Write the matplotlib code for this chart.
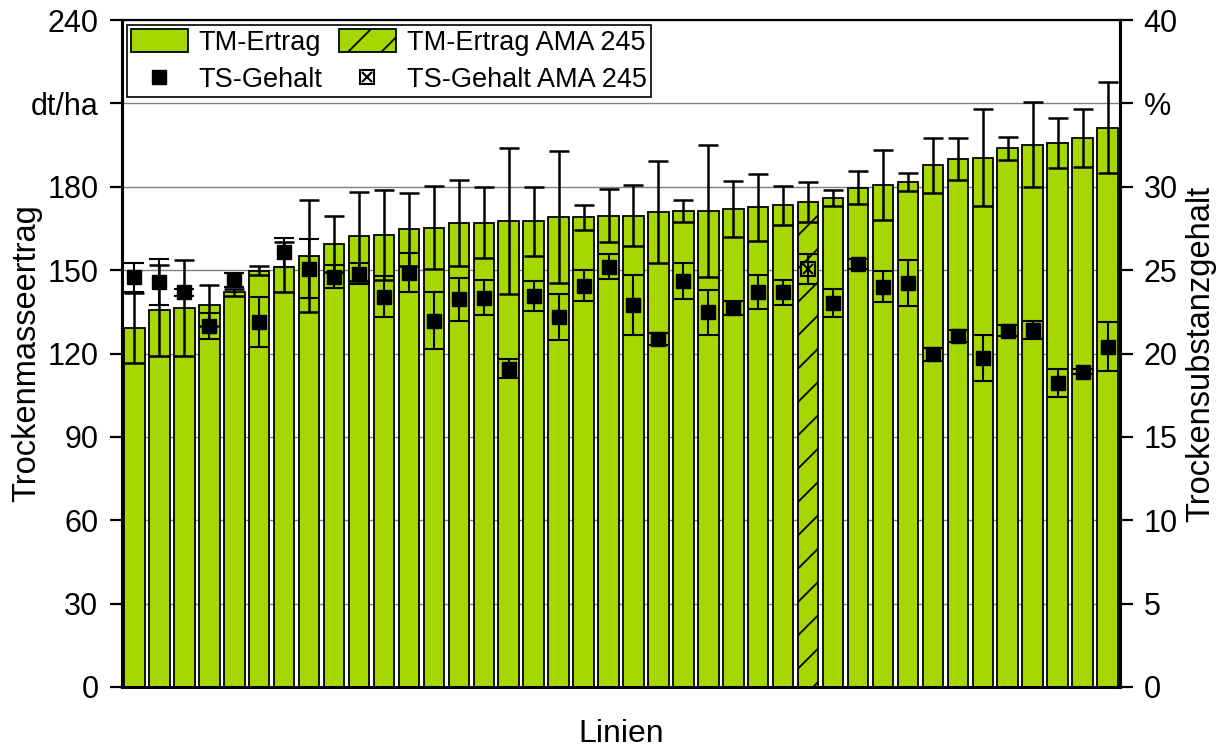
import numpy as np
import matplotlib
matplotlib.use("Agg")
import matplotlib.pyplot as plt
from matplotlib.patches import Patch
from matplotlib.lines import Line2D

plt.rcParams['font.family'] = ['Liberation Sans', 'DejaVu Sans']
plt.rcParams['hatch.linewidth'] = 1.3

# TM-Ertrag (dt/ha) with SD, 40 lines sorted by yield; index 27 is AMA 245
ertrag = [129.1, 135.5, 136.3, 137.3, 142.0, 149.8, 151.2, 155.1, 159.3, 162.1,
          162.6, 164.7, 165.3, 166.9, 167.1, 167.7, 167.5, 169.0, 169.0, 169.6,
          169.6, 170.8, 171.2, 171.4, 171.9, 172.6, 173.3, 174.5, 175.8, 179.7,
          180.6, 181.6, 187.7, 189.9, 190.5, 193.8, 195.2, 195.8, 197.4, 201.3]
ertrag_sd = [12.5, 16.4, 17.2, 7.4, 1.3, 1.6, 9.0, 20.1, 10.0, 16.0,
             16.2, 13.2, 14.8, 15.4, 12.9, 26.3, 12.4, 23.7, 4.6, 9.6,
             11.0, 18.3, 3.9, 23.8, 10.1, 12.0, 6.9, 7.3, 2.9, 5.8,
             12.5, 3.2, 9.9, 7.6, 17.6, 4.1, 15.4, 9.1, 10.4, 16.5]

# TS-Gehalt (%) with SD
ts = [24.57, 24.27, 23.67, 21.65, 24.4, 21.87, 26.07, 25.07, 24.6, 24.77,
      23.41, 24.85, 21.97, 23.25, 23.35, 19.09, 23.45, 22.21, 24.07, 25.19,
      22.91, 20.87, 24.35, 22.47, 22.71, 23.71, 23.67, 25.07, 23.01, 25.37,
      24.01, 24.21, 19.95, 21.05, 19.75, 21.37, 21.41, 18.25, 18.91, 20.41]
ts_sd = [0.88, 1.39, 0.2, 0.77, 0.4, 1.49, 0.88, 1.77, 0.7, 0.63,
         1.25, 1.15, 1.7, 1.3, 1.03, 0.57, 0.92, 1.38, 0.93, 0.75,
         1.81, 0.35, 1.1, 1.34, 0.42, 1.02, 0.75, 0.9, 0.83, 0.3,
         0.95, 1.37, 0.38, 0.36, 1.37, 0.35, 0.54, 0.84, 0.15, 1.45]

AMA_IDX = 27
left_ticks = [0, 30, 60, 90, 120, 150, 180, 210, 240]
left_labels = ['0', '30', '60', '90', '120', '150', '180', 'dt/ha', '240']
right_ticks = [0, 5, 10, 15, 20, 25, 30, 35, 40]
right_labels = ['0', '5', '10', '15', '20', '25', '30', '%', '40']

GREEN = '#a6d700'
FS = 22      # tick labels
LFS = 23.5   # axis labels

x = np.arange(len(ertrag))
normal = np.array([i for i in x if i != AMA_IDX])
ertrag = np.array(ertrag)
ertrag_sd = np.array(ertrag_sd)
ts = np.array(ts)
ts_sd = np.array(ts_sd)

fig = plt.figure(figsize=(12.25, 7.56), dpi=100)
ax = fig.add_axes([122 / 1225, 69 / 756, 998 / 1225, 667 / 756])

# bars + yield error bars
ax.bar(normal, ertrag[normal], width=0.82, color=GREEN, edgecolor='black', linewidth=1.3, zorder=2)
ax.bar([AMA_IDX], [ertrag[AMA_IDX]], width=0.82, color=GREEN, edgecolor='black',
       linewidth=1.3, hatch='/', zorder=2)
ax.errorbar(x, ertrag, yerr=ertrag_sd, fmt='none', ecolor='black', elinewidth=1.8,
            capsize=7, capthick=1.8, zorder=3)

ax.set_xlim(-0.5, len(ertrag) - 0.5)
ax.set_ylim(0, 240)
ax.set_yticks(left_ticks)
ax.set_yticklabels(left_labels)
ax.set_xticks([])
ax.yaxis.grid(True, color='#808080', linewidth=1.0)
ax.set_axisbelow(True)
ax.set_ylabel('Trockenmasseertrag', fontsize=LFS)
ax.yaxis.set_label_coords(-0.08, 0.5)
ax.set_xlabel('Linien', fontsize=23)
ax.xaxis.set_label_coords(0.5, -0.048)
ax.tick_params(axis='y', labelsize=FS, direction='out', length=9, width=1.6, pad=8)

# TS-Gehalt on the right axis
ax2 = ax.twinx()
ax2.errorbar(normal, ts[normal], yerr=ts_sd[normal], fmt='s', color='black', ms=9.5,
             elinewidth=1.5, capsize=7, capthick=1.5)
ax2.errorbar([AMA_IDX], [ts[AMA_IDX]], yerr=[ts_sd[AMA_IDX]], fmt='s', mfc='none',
             mec='black', mew=1.5, color='black', ms=9.5, elinewidth=1.5, capsize=7, capthick=1.5)
ax2.plot([AMA_IDX], [ts[AMA_IDX]], marker='x', color='black', ms=7, mew=1.5, ls='none')
ax2.set_ylim(0, 40)
ax2.set_yticks(right_ticks)
ax2.set_yticklabels(right_labels)
ax2.set_ylabel('Trockensubstanzgehalt', fontsize=LFS)
ax2.yaxis.set_label_coords(1.065, 0.5)
ax2.tick_params(axis='y', labelsize=FS, direction='out', length=9, width=1.6, pad=8)

for a in (ax, ax2):
    a.spines['left'].set_linewidth(2.2)
    a.spines['right'].set_linewidth(2.2)
    a.spines['top'].set_linewidth(1.5)
    a.spines['bottom'].set_linewidth(2.0)

handles = [
    Patch(facecolor=GREEN, edgecolor='black', linewidth=1.3),
    Line2D([], [], marker='s', ls='none', color='black', ms=9.5),
    Patch(facecolor=GREEN, edgecolor='black', linewidth=1.3, hatch='/'),
    (Line2D([], [], marker='s', ls='none', mfc='none', mec='black', mew=1.5, ms=9.5),
     Line2D([], [], marker='x', ls='none', color='black', ms=7, mew=1.5)),
]
labels = ['TM-Ertrag', 'TS-Gehalt', 'TM-Ertrag AMA 245', 'TS-Gehalt AMA 245']
leg = ax2.legend(handles, labels, ncol=2, loc='upper left', bbox_to_anchor=(0.005, 0.992),
                 borderaxespad=0, fontsize=19.5, fancybox=False, framealpha=1,
                 edgecolor='black', handlelength=2.1, handleheight=0.9, borderpad=0.15,
                 labelspacing=0.4, columnspacing=0.6, handletextpad=0.4)
leg.get_frame().set_linewidth(1.2)

fig.savefig('out.png', dpi=100)
